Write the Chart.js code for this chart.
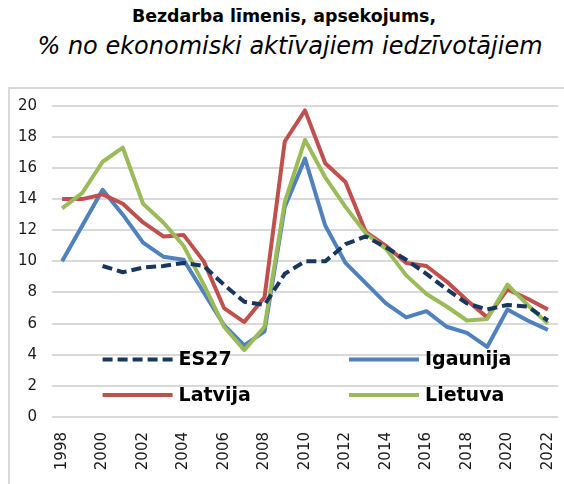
<!DOCTYPE html>
<html>
<head>
<meta charset="utf-8">
<script src="https://cdn.jsdelivr.net/npm/chart.js@4.4.0/dist/chart.umd.min.js"></script>
<style>
  body { margin: 0; background: #fff; font-family: "DejaVu Sans", Verdana, sans-serif; }
  #title { position: absolute; left: 0; width: 568px; top: 6px; text-align: center; font-weight: bold; font-size: 17.4px; color: #000; }
  #subtitle { position: absolute; left: 0; width: 580px; top: 32px; text-align: center; font-style: italic; font-size: 24px; color: #000; }
  #box { position: absolute; left: 8px; top: 87px; width: 600px; height: 450px; border: 2px solid #d9d9d9; }
  #chartContainer { position: absolute; left: 10px; top: 89px; }
</style>
</head>
<body>
<div id="title">Bezdarba līmenis, apsekojums,</div>
<div id="subtitle">% no ekonomiski aktīvajiem iedzīvotājiem</div>
<div id="box"></div>
<canvas id="chartContainer" width="554" height="395"></canvas>
<script>
// 1: data
let years = ['1998', '1999', '2000', '2001', '2002', '2003', '2004', '2005', '2006', '2007', '2008', '2009',
  '2010', '2011', '2012', '2013', '2014', '2015', '2016', '2017', '2018', '2019', '2020', '2021', '2022'];

let es27 = [null, null, 9.7, 9.3, 9.6, 9.7, 9.9, 9.7, 8.5, 7.4, 7.2, 9.2,
  10.0, 10.0, 11.1, 11.6, 10.9, 10.1, 9.2, 8.2, 7.3, 6.9, 7.2, 7.1, 6.2];
let igaunija = [10.0, 12.3, 14.6, 13.0, 11.2, 10.3, 10.1, 8.0, 5.9, 4.6, 5.5, 13.5,
  16.6, 12.3, 9.9, 8.6, 7.3, 6.4, 6.8, 5.8, 5.4, 4.5, 6.9, 6.2, 5.6];
let latvija = [14.0, 14.0, 14.3, 13.7, 12.5, 11.6, 11.7, 10.0, 7.0, 6.1, 7.7, 17.7,
  19.7, 16.3, 15.1, 11.9, 11.0, 9.9, 9.7, 8.7, 7.5, 6.4, 8.2, 7.6, 6.9];
let lietuva = [13.4, 14.4, 16.4, 17.3, 13.7, 12.5, 11.0, 8.5, 5.8, 4.3, 5.8, 13.8,
  17.8, 15.4, 13.5, 11.8, 10.8, 9.1, 7.9, 7.1, 6.2, 6.3, 8.5, 7.2, 6.0];

let yMin = 0;
let yMax = 20;
let yStep = 2;

// 2: legend drawn inside the plot, two rows of two (like the excel original)
// spots are fractions of the chart area
const insideLegend = {
  id: 'insideLegend',
  afterDatasetsDraw(chart) {
    const ctx = chart.ctx;
    const area = chart.chartArea;
    const spots = [[0.10, 0.815], [0.587, 0.815], [0.10, 0.929], [0.587, 0.929]];
    chart.data.datasets.forEach((ds, i) => {
      const x = area.left + spots[i][0] * (area.right - area.left);
      const y = area.top + spots[i][1] * (area.bottom - area.top);
      ctx.save();
      ctx.strokeStyle = ds.borderColor;
      ctx.lineWidth = ds.borderWidth;
      ctx.setLineDash(ds.borderDash || []);
      ctx.lineCap = 'butt';
      ctx.beginPath();
      ctx.moveTo(x, y);
      ctx.lineTo(x + 70, y);
      ctx.stroke();
      ctx.setLineDash([]);
      ctx.fillStyle = '#000';
      ctx.font = 'bold 19px "DejaVu Sans"';
      ctx.textBaseline = 'middle';
      ctx.fillText(ds.label, x + 76, y + 1);
      ctx.restore();
    });
  }
};

// 3: chart
function appendChart() {
  let chartContainer = document.getElementById('chartContainer');
  let chart = new Chart(chartContainer, {
    type: 'line',
    data: {
      labels: years,
      datasets: [
        {
          label: 'ES27',
          data: es27,
          borderColor: '#17375e',
          borderWidth: 4,
          borderDash: [10, 5],
          order: 0
        },
        {
          label: 'Igaunija',
          data: igaunija,
          borderColor: '#4f81bd',
          borderWidth: 4,
          order: 3
        },
        {
          label: 'Latvija',
          data: latvija,
          borderColor: '#c0504d',
          borderWidth: 4,
          order: 2
        },
        {
          label: 'Lietuva',
          data: lietuva,
          borderColor: '#9bbb59',
          borderWidth: 4,
          order: 1
        }
      ]
    },
    options: {
      responsive: false,
      animation: false,
      devicePixelRatio: 1,
      layout: { padding: { top: 16.7, right: 6, left: 0, bottom: 0 } },
      elements: {
        point: { radius: 0 },
        line: { tension: 0, borderJoinStyle: 'round' }
      },
      plugins: {
        legend: { display: false },
        tooltip: { enabled: false }
      },
      scales: {
        x: {
          offset: true,
          grid: { display: false, drawTicks: false },
          border: { display: false },
          ticks: {
            autoSkip: false,
            minRotation: 90,
            maxRotation: 90,
            padding: 15,
            color: '#1a1a1a',
            font: { family: 'DejaVu Sans', size: 15 },
            callback: function (value, index) {
              return index % 2 === 0 ? years[index] : '';
            }
          },
          afterFit: function (scale) {
            scale.height = 67;
            // rotated labels ask for side room we don't want
            scale.paddingLeft = 0;
            scale.paddingRight = 0;
          }
        },
        y: {
          min: yMin,
          max: yMax,
          grid: { color: '#d9d9d9', lineWidth: 2, drawTicks: false },
          border: { display: false },
          ticks: {
            stepSize: yStep,
            padding: 15,
            color: '#1a1a1a',
            font: { family: 'DejaVu Sans', size: 15 }
          },
          afterFit: function (scale) {
            scale.width = 42;
            // the label padding would otherwise push the plot top down
            scale.paddingTop = 0;
            scale.paddingBottom = 0;
          }
        }
      }
    },
    plugins: [insideLegend]
  });
}

appendChart();
</script>
</body>
</html>
